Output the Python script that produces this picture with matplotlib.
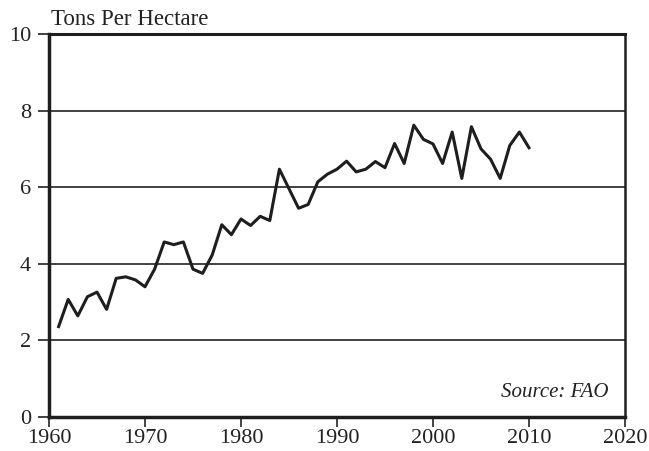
import numpy as np
import matplotlib
matplotlib.use("Agg")
import matplotlib.pyplot as plt

# yield data
years = list(range(1961, 2011))
tons_per_ha = [2.36, 3.07, 2.64, 3.14, 3.26, 2.81, 3.62, 3.66, 3.58, 3.40,
               3.86, 4.57, 4.50, 4.57, 3.86, 3.75, 4.23, 5.02, 4.76, 5.17,
               5.00, 5.24, 5.13, 6.47, 5.96, 5.45, 5.55, 6.14, 6.34, 6.47,
               6.68, 6.40, 6.47, 6.67, 6.51, 7.14, 6.62, 7.62, 7.25, 7.13,
               6.62, 7.44, 6.23, 7.58, 7.00, 6.73, 6.23, 7.09, 7.44, 7.03]

x_ticks = [1960, 1970, 1980, 1990, 2000, 2010, 2020]
y_ticks = [0, 2, 4, 6, 8, 10]

plt.rcParams['font.family'] = ['Liberation Serif', 'DejaVu Serif']

fig = plt.figure(figsize=(6.49, 4.51), dpi=100)
ax = fig.add_axes([0.0755, 0.0754, 0.8875, 0.8492])

for yv in y_ticks[1:-1]:
    ax.axhline(yv, color='#333333', lw=1.3, zorder=1)

ax.plot(years, tons_per_ha, color='#1e1e1e', lw=2.2, zorder=3)

ax.set_xlim(1960, 2020)
ax.set_ylim(0, 10)
ax.set_xticks(x_ticks)
ax.set_yticks(y_ticks)
ax.tick_params(axis='both', direction='out', labelsize=16, colors='#222222',
               width=1.2)
ax.tick_params(axis='y', length=8, pad=5)
ax.tick_params(axis='x', length=7, pad=2)

ax.spines['left'].set_linewidth(2.5)
ax.spines['bottom'].set_linewidth(2.5)
ax.spines['top'].set_linewidth(2.2)
ax.spines['right'].set_linewidth(1.8)
for s in ax.spines.values():
    s.set_color('#1e1e1e')

fig.text(0.078, 0.945, 'Tons Per Hectare', fontsize=16.5, color='#222222',
         ha='left', va='baseline')
ax.text(0.972, 0.04, 'Source: FAO', transform=ax.transAxes, fontsize=15,
        style='italic', color='#222222', ha='right', va='bottom')

fig.savefig('out.png', dpi=100)
